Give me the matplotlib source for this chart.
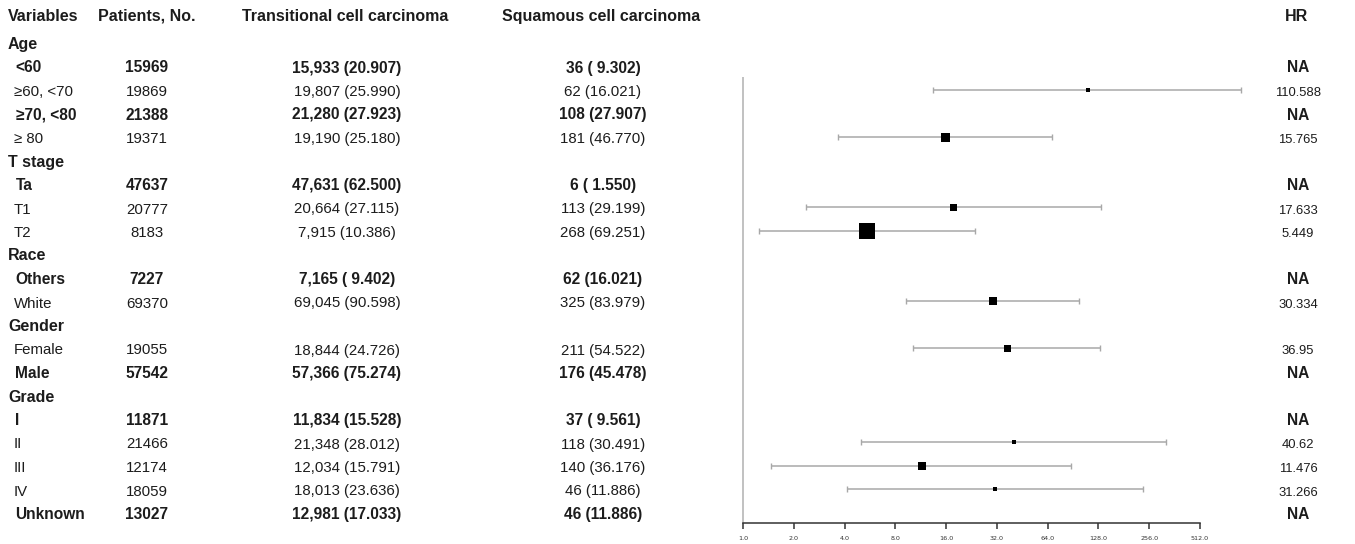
import numpy as np
import matplotlib
matplotlib.use("Agg")
import matplotlib.pyplot as plt
from matplotlib.ticker import FixedLocator, FixedFormatter, NullLocator

# ---------------- data ----------------
headers = ["Variables", "Patients, No.", "Transitional cell carcinoma",
           "Squamous cell carcinoma", "HR"]

variables = ["Age", "<60", "\u226560, <70", "\u226570, <80", "\u2265 80",
             "T stage", "Ta", "T1", "T2",
             "Race", "Others", "White",
             "Gender", "Female", "Male",
             "Grade", "I", "II", "III", "IV", "Unknown"]

# row kind: 'cat' = category heading, 'ref' = reference level (bold), 'lvl' = ordinary level
row_kind = ["cat", "ref", "lvl", "ref", "lvl",
            "cat", "ref", "lvl", "lvl",
            "cat", "ref", "lvl",
            "cat", "lvl", "ref",
            "cat", "ref", "lvl", "lvl", "lvl", "ref"]

patients = ["", "15969", "19869", "21388", "19371",
            "", "47637", "20777", "8183",
            "", "7227", "69370",
            "", "19055", "57542",
            "", "11871", "21466", "12174", "18059", "13027"]

tcc = ["", "15,933 (20.907)", "19,807 (25.990)", "21,280 (27.923)", "19,190 (25.180)",
       "", "47,631 (62.500)", "20,664 (27.115)", "7,915 (10.386)",
       "", "7,165 ( 9.402)", "69,045 (90.598)",
       "", "18,844 (24.726)", "57,366 (75.274)",
       "", "11,834 (15.528)", "21,348 (28.012)", "12,034 (15.791)", "18,013 (23.636)",
       "12,981 (17.033)"]

scc = ["", "36 ( 9.302)", "62 (16.021)", "108 (27.907)", "181 (46.770)",
       "", "6 ( 1.550)", "113 (29.199)", "268 (69.251)",
       "", "62 (16.021)", "325 (83.979)",
       "", "211 (54.522)", "176 (45.478)",
       "", "37 ( 9.561)", "118 (30.491)", "140 (36.176)", "46 (11.886)", "46 (11.886)"]

hr_text = ["", "NA", "110.588", "NA", "15.765",
           "", "NA", "17.633", "5.449",
           "", "NA", "30.334",
           "", "36.95", "NA",
           "", "NA", "40.62", "11.476", "31.266", "NA"]

nan = np.nan
hr = [nan, nan, 110.588, nan, 15.765,
      nan, nan, 17.633, 5.449,
      nan, nan, 30.334,
      nan, 36.95, nan,
      nan, nan, 40.62, 11.476, 31.266, nan]
ci_low = [nan, nan, 13.4, nan, 3.64,
          nan, nan, 2.36, 1.24,
          nan, nan, 9.25,
          nan, 10.2, nan,
          nan, nan, 5.02, 1.47, 4.12, nan]
ci_high = [nan, nan, 893.0, nan, 67.5,
           nan, nan, 132.0, 23.6,
           nan, nan, 98.0,
           nan, 130.0, nan,
           nan, nan, 324.0, 87.8, 235.0, nan]
box_weight = [nan, nan, 5, nan, 9,
              nan, nan, 7, 16,
              nan, nan, 8,
              nan, 7, nan,
              nan, nan, 5, 8, 5, nan]

x_ticks = [1, 2, 4, 8, 16, 32, 64, 128, 256, 512]

# ---------------- layout ----------------
W, H = 1355, 544
fig = plt.figure(figsize=(W / 100, H / 100), dpi=100)
fig.patch.set_facecolor("white")

FONT = "Liberation Sans"
TXT = "#1c1c1c"

bg = fig.add_axes([0, 0, 1, 1])
bg.set_xlim(0, W)
bg.set_ylim(H, 0)
bg.axis("off")

ROW0, PITCH = 43.0, 23.5
HEAD_Y = 15.0

def row_px(i):
    return ROW0 + i * PITCH

# header
hdr_fs = 11.5
body_fs = 10.8
hdr_x = [8, 98, 242, 502, 1296]
hdr_ha = ["left", "left", "left", "left", "center"]
for t, x, ha in zip(headers, hdr_x, hdr_ha):
    bg.text(x, HEAD_Y + 5.8, t, ha=ha, va="baseline", fontsize=hdr_fs,
            fontweight="bold", family=FONT, color=TXT)

for i, kind in enumerate(row_kind):
    y = row_px(i)
    if kind == "cat":
        bg.text(8, y + 6.0, variables[i], ha="left", va="baseline",
                fontsize=hdr_fs, fontweight="bold", family=FONT, color=TXT)
        continue
    bold = kind == "ref"
    fw = "bold" if bold else "normal"
    fs = body_fs + (0.4 if bold else 0.0)
    lx = 15.5 if bold else 13.5
    yb = y + 6.0
    bg.text(lx, yb, variables[i], ha="left", va="baseline", fontsize=fs,
            fontweight=fw, family=FONT, color=TXT)
    bg.text(147, yb, patients[i], ha="center", va="baseline", fontsize=fs,
            fontweight=fw, family=FONT, color=TXT)
    bg.text(347, yb, tcc[i], ha="center", va="baseline", fontsize=fs,
            fontweight=fw, family=FONT, color=TXT)
    bg.text(603, yb, scc[i], ha="center", va="baseline", fontsize=fs,
            fontweight=fw, family=FONT, color=TXT)
    bg.text(1298, yb, hr_text[i], ha="center", va="baseline",
            fontsize=(fs if bold else 9.4), fontweight=fw, family=FONT, color=TXT)

# ---------------- forest plot ----------------
X0, X1, YAX = 743.0, 1200.0, 523.0
ax = fig.add_axes([X0 / W, (H - YAX) / H, (X1 - X0) / W, YAX / H])
ax.set_facecolor("none")
ax.set_xscale("log", base=2)
ax.set_xlim(1, 512)
ax.set_ylim((YAX - ROW0) / PITCH, -ROW0 / PITCH)

for s in ["top", "right", "left"]:
    ax.spines[s].set_visible(False)
ax.spines["bottom"].set_color("#333333")
ax.spines["bottom"].set_linewidth(1.1)

ax.xaxis.set_major_locator(FixedLocator(x_ticks))
ax.xaxis.set_major_formatter(FixedFormatter([f"{v:.1f}" for v in x_ticks]))
ax.xaxis.set_minor_locator(NullLocator())
ax.tick_params(axis="x", direction="out", length=4.0, width=1.1, color="#333333",
               labelsize=4.6, labelcolor="#333333", pad=5.0)
ax.yaxis.set_visible(False)

# reference (no-effect) vertical line: starts half a row above the first estimate
first_est = int(np.nanargmin(np.where(np.isnan(hr), np.inf, np.arange(len(hr)))))
ax.plot([1, 1], [first_est - 0.55, (YAX - ROW0) / PITCH], color="#b0b0b0", lw=1.1,
        clip_on=False, solid_capstyle="butt", zorder=1)

rows = np.arange(len(hr))
for i in rows:
    if np.isnan(hr[i]):
        continue
    ax.errorbar([hr[i]], [i], xerr=[[hr[i] - ci_low[i]], [ci_high[i] - hr[i]]],
                fmt="none", ecolor="#a8a8a8", elinewidth=1.1, capsize=2.2,
                capthick=1.0, clip_on=False, zorder=2)
    ax.plot([hr[i]], [i], marker="s", linestyle="none", color="black",
            markersize=box_weight[i] * 0.72, markeredgewidth=0,
            clip_on=False, zorder=3)

fig.savefig("out.png", dpi=100, facecolor="white")
